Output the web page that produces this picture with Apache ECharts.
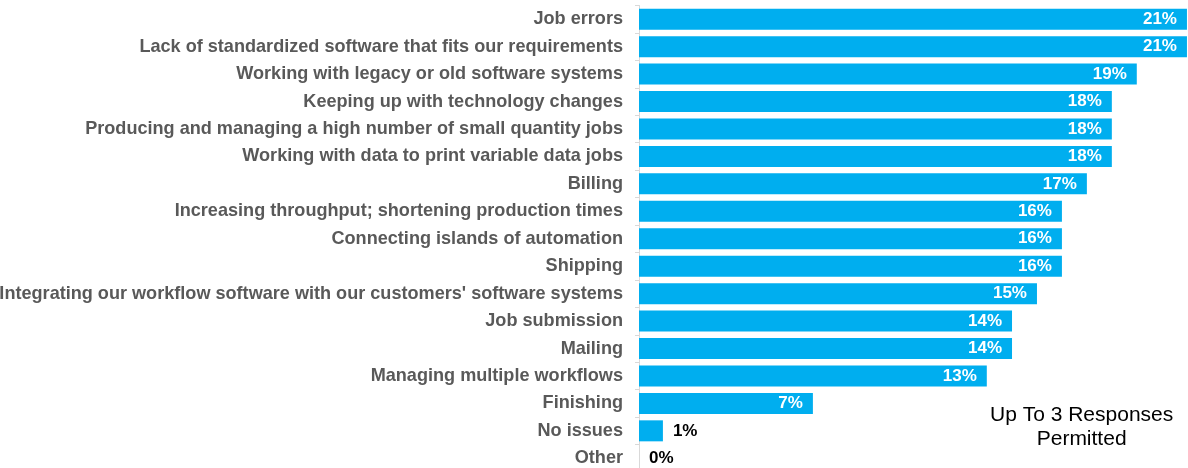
<!DOCTYPE html>
<html>
<head>
<meta charset="utf-8">
<script src="https://cdn.jsdelivr.net/npm/echarts@6/dist/echarts.min.js"></script>
<style>
html,body{margin:0;padding:0;background:#fff;}
#chart{width:1188px;height:468px;}
</style>
</head>
<body>
<div id="chart"></div>
<script>
const categories = [
  "Job errors",
  "Lack of standardized software that fits our requirements",
  "Working with legacy or old software systems",
  "Keeping up with technology changes",
  "Producing and managing a high number of small quantity jobs",
  "Working with data to print variable data jobs",
  "Billing",
  "Increasing throughput; shortening production times",
  "Connecting islands of automation",
  "Shipping",
  "Integrating our workflow software with our customers' software systems",
  "Job submission",
  "Mailing",
  "Managing multiple workflows",
  "Finishing",
  "No issues",
  "Other"
];
const values = [21.08, 21.08, 19.15, 18.19, 18.19, 18.19, 17.23, 16.27, 16.27, 16.27, 15.31, 14.35, 14.35, 13.38, 6.69, 0.92, 0];
const valueLabels = ["21%","21%","19%","18%","18%","18%","17%","16%","16%","16%","15%","14%","14%","13%","7%","1%","0%"];
const outsideLabelIndex = [15, 16];
const noteText = "Up To 3 Responses\nPermitted";

const chart = echarts.init(document.getElementById('chart'), null, {renderer: 'canvas'});
const data = values.map((v, i) => {
  const item = { value: v };
  if (outsideLabelIndex.includes(i)) {
    item.label = { position: 'right', color: '#000', distance: 10 };
  }
  return item;
});
chart.setOption({
  animation: false,
  grid: { left: 639, top: 5.5, width: 549, height: 466.5, containLabel: false, outerBoundsMode: 'none' },
  xAxis: {
    type: 'value', min: 0, max: 21.12, show: false
  },
  yAxis: {
    type: 'category', data: categories, inverse: true,
    axisLine: { show: true, lineStyle: { color: '#d9d9d9', width: 1 } },
    axisTick: { show: true, length: 4, lineStyle: { color: '#d9d9d9' } },
    axisLabel: {
      fontFamily: 'Liberation Sans, Arial, sans-serif',
      fontSize: 18.1, fontWeight: 'bold', color: '#595959', margin: 16
    }
  },
  series: [{
    type: 'bar', data: data, barWidth: 21,
    itemStyle: { color: '#00AEEF' },
    label: {
      show: true, position: 'insideRight', distance: 10,
      fontFamily: 'Liberation Sans, Arial, sans-serif',
      fontSize: 17, fontWeight: 'bold', color: '#fff',
      formatter: p => valueLabels[p.dataIndex]
    }
  }],
  graphic: [{
    type: 'text', left: 990, top: 403,
    style: {
      text: noteText, textAlign: 'center', x: 91,
      fontFamily: 'Liberation Sans, Arial, sans-serif',
      fontSize: 21, fill: '#000', lineHeight: 24
    }
  }]
});
</script>
</body>
</html>
